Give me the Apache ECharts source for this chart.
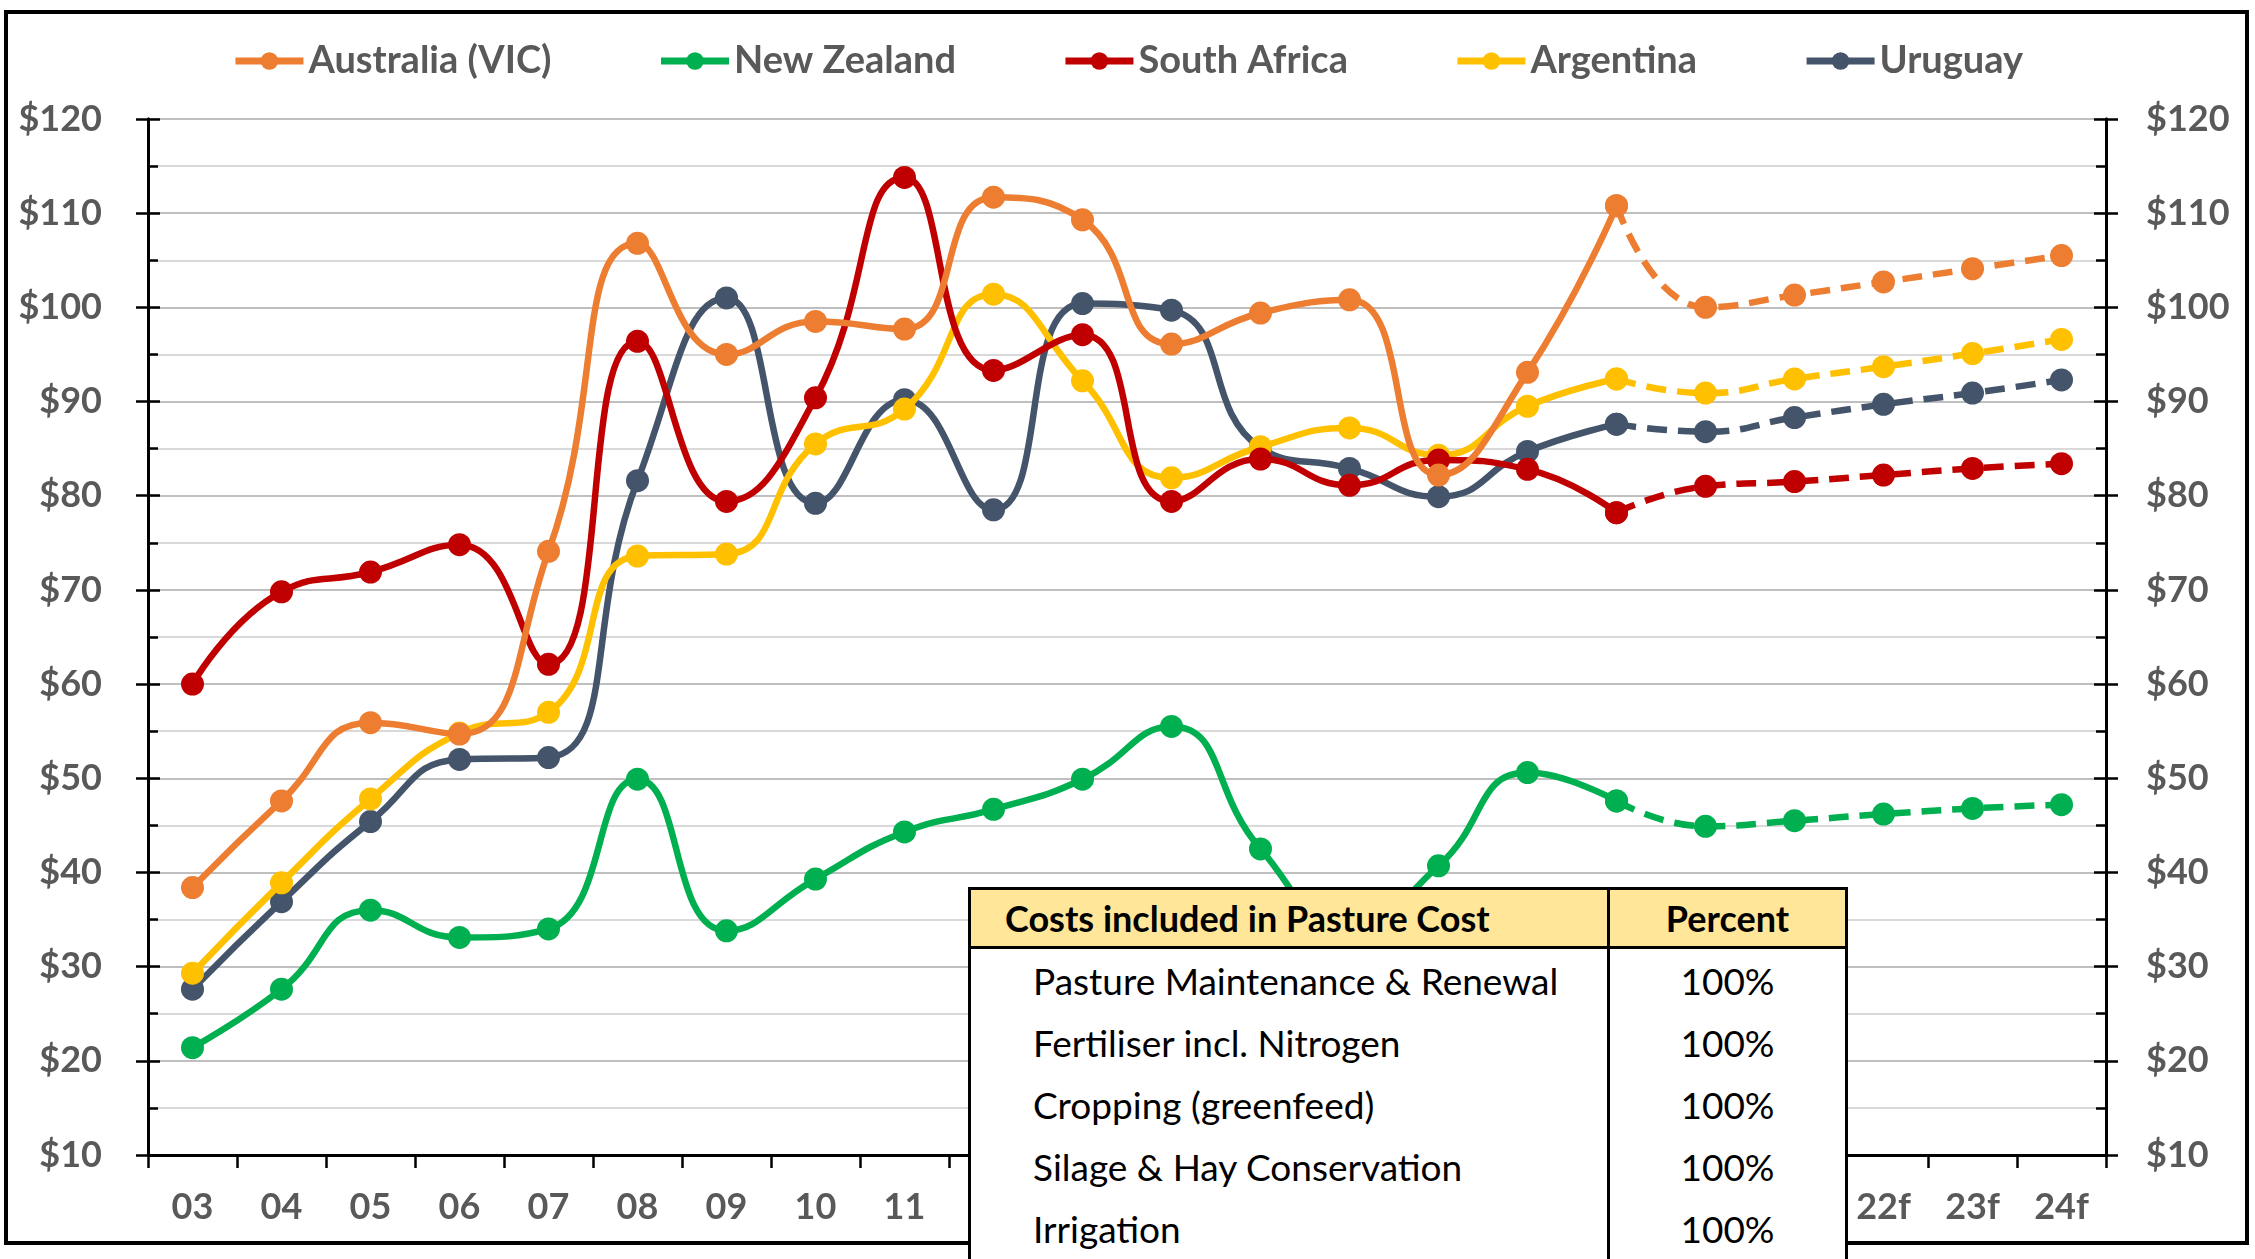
<!DOCTYPE html>
<html>
<head>
<meta charset="utf-8">
<script src="https://cdn.jsdelivr.net/npm/echarts@6/dist/echarts.min.js"></script>
<style>
  html, body { margin: 0; padding: 0; background: #fff; }
  #chart { position: absolute; left: 0; top: 0; width: 2255px; height: 1259px; }
  #costs {
    position: absolute; left: 968px; top: 887px; width: 880px; table-layout: fixed;
    border-collapse: collapse; background: #fff; border: 3px solid #000;
    font-family: Lato, 'Open Sans', sans-serif; color: #000;
  }
  #costs th { background: #ffe699; font-weight: bold; font-size: 36px; height: 56px;
    border-bottom: 3px solid #000; padding: 0; white-space: nowrap; }
  #costs td { font-size: 37px; height: 62px; padding: 0; white-space: nowrap; }
  #costs .name { text-align: left; padding-left: 34px; width: 602px; border-right: 3px solid #000; }
  #costs td.name { padding-left: 62px; width: 574px; }
  #costs .pct { text-align: center; }
</style>
</head>
<body>
<div id="chart"></div>
<table id="costs"></table>
<script>
const years = ['03', '04', '05', '06', '07', '08', '09', '10', '11', '12', '13', '14', '15', '16',
  '17', '18', '19', '20f', '21f', '22f', '23f', '24f']
// index of the last actual year, forecast (dashed) runs from here on
const lastActual = 16

const australia = [38.4, 47.6, 55.9, 54.7, 74.1, 106.8, 95.0, 98.5, 97.7, 111.7, 109.3, 96.1, 99.4, 100.8,
  82.2, 93.1, 110.8, 100.0, 101.3, 102.7, 104.1, 105.5]
const newZealand = [21.4, 27.6, 36.0, 33.1, 34.0, 49.9, 33.8, 39.3, 44.3, 46.7, 49.9, 55.5, 42.5, 34.0,
  40.7, 50.6, 47.6, 44.9, 45.5, 46.2, 46.8, 47.2]
const southAfrica = [60.0, 69.8, 71.9, 74.8, 62.1, 96.4, 79.4, 90.4, 113.8, 93.3, 97.1, 79.4, 83.9, 81.1,
  83.8, 82.8, 78.2, 81.0, 81.5, 82.2, 82.9, 83.4]
const argentina = [29.3, 38.9, 47.8, 54.8, 57.0, 73.6, 73.8, 85.5, 89.2, 101.4, 92.2, 81.9, 85.2, 87.2,
  84.3, 89.5, 92.4, 90.9, 92.4, 93.7, 95.1, 96.6]
const uruguay = [27.6, 36.9, 45.4, 52.0, 52.2, 81.6, 101.0, 79.2, 90.2, 78.5, 100.4, 99.7, 85.1, 82.9,
  79.9, 84.7, 87.6, 86.8, 88.3, 89.7, 90.9, 92.3]

const countries = ['Australia (VIC)', 'New Zealand', 'South Africa', 'Argentina', 'Uruguay']
const colors = ['#ed7d31', '#00b050', '#c00000', '#ffc000', '#44546a']
const values = [australia, newZealand, southAfrica, argentina, uruguay]

const costItems = ['Pasture Maintenance & Renewal', 'Fertiliser incl. Nitrogen', 'Cropping (greenfeed)',
  'Silage & Hay Conservation', 'Irrigation']
const costPercents = ['100%', '100%', '100%', '100%', '100%']

// table overlay
const table = document.getElementById('costs')
let html = '<tr><th class="name">Costs included in Pasture Cost</th><th class="pct">Percent</th></tr>'
costItems.forEach((item, i) => {
  html += '<tr><td class="name">' + item.replace('&', '&amp;') + '</td><td class="pct">' + costPercents[i] + '</td></tr>'
})
table.innerHTML = html

const font = 'Lato, "Open Sans", sans-serif'
const grey = '#595959'

const series = []
countries.forEach((name, k) => {
  const base = {
    type: 'line',
    smooth: 0.5,
    symbol: 'circle',
    symbolSize: 23,
    color: colors[k],
    itemStyle: { color: colors[k] },
    z: 10 - k
  }
  series.push(Object.assign({}, base, {
    name: name,
    lineStyle: { width: 6.5, color: colors[k] },
    data: values[k].map((v, i) => i <= lastActual ? v : '-')
  }))
  series.push(Object.assign({}, base, {
    name: name + ' forecast',
    lineStyle: { width: 6.5, color: colors[k], type: [20, 11] },
    data: values[k].map((v, i) => i >= lastActual ? v : '-')
  }))
})

const yBase = {
  type: 'value',
  min: 10,
  max: 120,
  interval: 10,
  axisLine: { show: true, lineStyle: { color: '#000', width: 3 } },
  splitLine: { show: false }
}

const chart = echarts.init(document.getElementById('chart'))
chart.setOption({
  animation: false,
  backgroundColor: '#fff',
  textStyle: { fontFamily: font },
  legend: {
    data: countries,
    top: 37,
    left: 'center',
    itemWidth: 68,
    itemHeight: 22,
    itemGap: 106,
    lineStyle: { width: 7 },
    textStyle: { color: grey, fontSize: 38, fontWeight: 'bold', fontFamily: font }
  },
  grid: { left: 148, right: 149, top: 119, bottom: 104 },
  xAxis: {
    type: 'category',
    data: years,
    boundaryGap: true,
    axisLine: { lineStyle: { color: '#000', width: 3 } },
    axisTick: { show: true, length: 13, lineStyle: { color: '#000', width: 2.5 } },
    axisLabel: { color: grey, fontSize: 36, fontWeight: 'bold', margin: 34, fontFamily: font }
  },
  yAxis: [
    Object.assign({}, yBase, {
      position: 'left',
      axisTick: { show: true, length: 12, lineStyle: { color: '#000', width: 2.5 } },
      axisLabel: { color: grey, fontSize: 36, fontWeight: 'bold', margin: 46, fontFamily: font,
        formatter: v => '$' + v },
      splitLine: { show: true, lineStyle: { color: '#bfbfbf', width: 2 } },
      minorTick: { show: false, splitNumber: 2 },
      minorSplitLine: { show: true, lineStyle: { color: '#d9d9d9', width: 2 } }
    }),
    Object.assign({}, yBase, {
      position: 'right',
      axisTick: { show: true, length: 12, lineStyle: { color: '#000', width: 2.5 } },
      axisLabel: { color: grey, fontSize: 36, fontWeight: 'bold', margin: 40, fontFamily: font,
        formatter: v => '$' + v }
    }),
    Object.assign({}, yBase, {
      position: 'left',
      axisTick: { show: true, inside: true, length: 12, lineStyle: { color: '#000', width: 2.5 } },
      minorTick: { show: true, splitNumber: 2, length: 10, lineStyle: { color: '#000', width: 2.5 } },
      axisLabel: { show: false }
    }),
    Object.assign({}, yBase, {
      position: 'right',
      axisTick: { show: true, inside: true, length: 12, lineStyle: { color: '#000', width: 2.5 } },
      minorTick: { show: true, splitNumber: 2, length: 10, lineStyle: { color: '#000', width: 2.5 } },
      axisLabel: { show: false }
    })
  ],
  graphic: [{
    type: 'rect',
    shape: { x: 6, y: 12, width: 2241, height: 1231 },
    style: { fill: 'none', stroke: '#000', lineWidth: 4 },
    silent: true
  }],
  series: series
})
</script>
</body>
</html>
